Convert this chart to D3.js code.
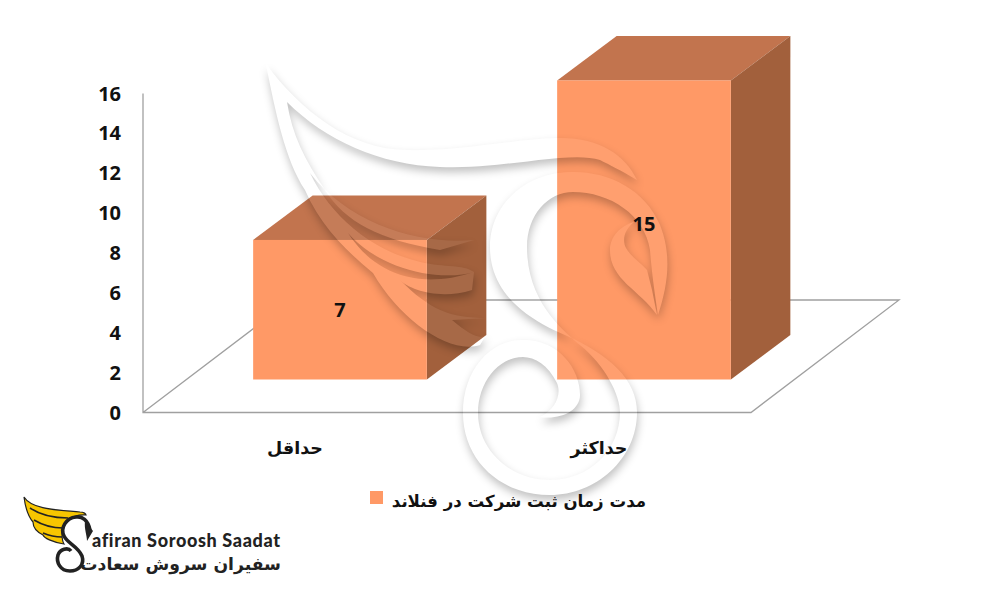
<!DOCTYPE html>
<html><head><meta charset="utf-8">
<script src="https://cdn.jsdelivr.net/npm/d3@7"></script>
<style>html,body{margin:0;background:#fff}svg{display:block}</style></head>
<body><svg id="c" width="1000" height="600"></svg>
<script>
const categories = ["حداقل", "حداکثر"];
const values = [7, 15];
const yTicks = [0, 2, 4, 6, 8, 10, 12, 14, 16];
const seriesName = "مدت زمان ثبت شرکت در فنلاند";
const brandLatin = "afiran Soroosh Saadat";
const brandPersian = "سفیران سروش سعادت";

const svg = d3.select("#c");
const latin = "'Open Sans','Noto Sans',sans-serif";
const arab = "'DejaVu Sans',sans-serif";
const y = d3.scaleLinear().domain([0, 16]).range([412.5, 93.5]);
const x = d3.scaleBand().domain(categories).range([143, 751]).paddingInner(.4286).paddingOuter(.2143);
const floorShift = {x: 45, y: -33}, depth = {x: 59.5, y: -44.5};

// wall + floor
svg.append("path").attr("fill", "none").attr("stroke", "#a0a0a0").attr("stroke-width", 1.3)
  .attr("d", `M${x.range()[0]},${y(16)}V${y(0)}H${x.range()[1]}L899,300H291L${x.range()[0]},${y(0)}`);

// 3D bars
const bars = svg.append("g").selectAll("g").data(values).join("g");
const fx = (d, i) => x(categories[i]) + floorShift.x;
const top_ = d => y(d) + floorShift.y, base = y(0) + floorShift.y, w = x.bandwidth();
bars.append("path").attr("fill", "#C2744E").attr("d", (d, i) => {
  const a = fx(d, i), t = top_(d);
  return `M${a},${t}l${depth.x},${depth.y}h${w}l${-depth.x},${-depth.y}Z`;
});
bars.append("path").attr("fill", "#A2603C").attr("d", (d, i) => {
  const a = fx(d, i) + w, t = top_(d);
  return `M${a},${t}l${depth.x},${depth.y}V${base + depth.y}L${a},${base}Z`;
});
bars.append("rect").attr("fill", "#FF9966").attr("x", fx).attr("y", top_).attr("width", w).attr("height", d => base - top_(d));

// embossed watermark
const defs = svg.append("defs");
const f = defs.append("filter").attr("id", "emboss").attr("x", "-20%").attr("y", "-20%").attr("width", "140%").attr("height", "140%")
  .attr("color-interpolation-filters", "sRGB");
f.append("feGaussianBlur").attr("in", "SourceAlpha").attr("stdDeviation", 4.5).attr("result", "b");
f.append("feOffset").attr("in", "b").attr("dx", 1).attr("dy", 5).attr("result", "o");
f.append("feFlood").attr("flood-color", "#000").attr("flood-opacity", .24);
f.append("feComposite").attr("in2", "o").attr("operator", "in").attr("result", "s");
f.append("feComposite").attr("in", "s").attr("in2", "SourceAlpha").attr("operator", "out").attr("result", "outer");
f.append("feFlood").attr("flood-color", "#fff").attr("flood-opacity", .06);
f.append("feComposite").attr("in2", "SourceAlpha").attr("operator", "in").attr("result", "tint");
const m = f.append("feMerge");
m.append("feMergeNode").attr("in", "outer");
m.append("feMergeNode").attr("in", "tint");

const wm = svg.append("g").attr("filter", "url(#emboss)");
const marks = [
  "M266,64C300,110 350,150 407,150C460,152 520,138 560,138C600,138 625,155 637,180C620,170 610,165 600,160C570,150 500,170 440,167C380,165 325,140 287,102C292,135 305,160 325,190C345,222 380,240 440,250L474,240C420,245 350,225 310,173C330,215 370,250 420,262C445,268 462,264 474,272C440,282 380,270 348,233C375,275 420,290 474,272L472,290C440,300 410,290 400,280C430,310 450,318 486,318L452,320C470,335 480,340 486,335L480,345C450,355 400,320 373,273C345,250 320,225 305,190C285,160 275,110 266,64Z",
  "M658,315C668,285 672,255 660,225C645,190 610,172 573,172C525,172 490,205 490,247C490,295 530,320 565,335C610,355 637,380 637,412C637,460 595,495 550,495C500,495 463,460 463,413C463,370 490,340 523,340C560,340 580,370 580,395C580,410 562,420 540,417C555,410 562,395 557,383C548,365 535,357 523,357C498,357 478,383 478,413C478,450 510,480 550,480C590,480 620,450 620,412C620,395 605,365 580,345C560,328 527,300 527,247C527,215 548,192 573,192C610,192 645,215 650,250C652,275 655,295 658,315Z",
  "M657,315C640,290 610,280 610,250C610,237 620,226 634,222C624,230 622,240 626,248C632,258 640,262 647,270L652,290Z"
];
wm.selectAll("path").data(marks).join("path").attr("d", d => d).attr("fill", "#000");

// axis
const axis = svg.append("g").attr("font-family", latin).attr("font-weight", 700).attr("fill", "#111");
axis.selectAll("text.t").data(yTicks).join("text").attr("class", "t")
  .attr("x", 121).attr("y", d => y(d)).attr("dy", ".35em").attr("text-anchor", "end").attr("font-size", 20).text(d => d);

axis.selectAll("text.c").data(categories).join("text").attr("class", "c")
  .attr("x", d => x(d) + x.bandwidth() / 2).attr("y", 448).attr("dy", ".35em").attr("text-anchor", "middle")
  .attr("font-family", arab).attr("font-size", 17.5).text(d => d);

// value labels
const labelY = d3.scaleLinear().domain(values).range([310, 224]);
svg.append("g").selectAll("text").data(values).join("text")
  .attr("x", (d, i) => fx(d, i) + w / 2).attr("y", d => labelY(d)).attr("dy", ".35em").attr("text-anchor", "middle")
  .attr("font-family", latin).attr("font-weight", 700).attr("font-size", 20).attr("fill", "#111").text(d => d);

// legend
svg.append("rect").attr("x", 370).attr("y", 491).attr("width", 13).attr("height", 13).attr("fill", "#FF9966");
svg.append("text").attr("x", 646).attr("y", 501).attr("dy", ".35em").attr("text-anchor", "end")
  .attr("font-family", arab).attr("font-weight", 700).attr("font-size", 16.6).attr("fill", "#111").text(seriesName);

// logo
const logo = svg.append("g");
logo.append("path").attr("fill", "#F7C600").attr("stroke", "#222").attr("stroke-width", 1.2)
  .attr("d", "M24,497C32,510 60,510 80,512C84,512 86,514 86,515C72,514 62,522 62,533C62,538 62,541 64,544C52,542 44,538 43,535C37,532 33,527 33,522C27,515 25,505 24,497Z");
logo.selectAll("path.line").data(["M30,508C42,516 55,518 68,518", "M34,520C44,526 54,528 63,528", "M43,533C50,536 56,537 62,537"])
  .join("path").attr("class", "line").attr("fill", "none").attr("stroke", "#222").attr("stroke-width", 1.6).attr("d", d => d);
logo.append("path").attr("fill", "none").attr("stroke", "#222").attr("stroke-width", 3.6)
  .attr("d", "M90,530C88,520 82,516 76,517C66,518 60,528 64,536C68,544 78,546 82,556C85,565 78,571 70,571C60,571 56,562 58,555C60,549 68,547 71,551");
logo.append("path").attr("fill", "#222").attr("d", "M85,521L93,531L87,541C87,535 84,529 85,521Z");
logo.append("text").attr("x", 92).attr("y", 547).attr("font-family", "Lato,sans-serif").attr("font-weight", 900).attr("font-size", 18)
  .attr("letter-spacing", 1.05).attr("textLength", 189).attr("fill", "#222").text(brandLatin);
logo.append("text").attr("x", 281).attr("y", 570).attr("text-anchor", "end").attr("font-family", arab).attr("font-weight", 700).attr("font-size", 17.2)
  .attr("fill", "#222").text(brandPersian);
</script></body></html>
